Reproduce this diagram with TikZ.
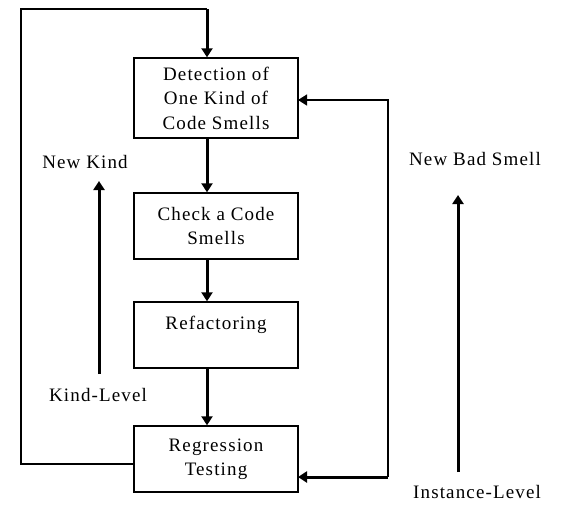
\documentclass[tikz,border=0pt]{standalone}
\usepackage{fontspec}
\setmainfont{Liberation Serif}[LetterSpace=6]
\usetikzlibrary{arrows.meta}

\begin{document}
\begin{tikzpicture}[
    x=1pt, y=-1pt,
    stage/.style={
        draw,
        line width=1.4pt,
        minimum width=164pt,
        inner sep=2pt,
        align=center,
        font=\fontsize{19}{24.5}\selectfont
    },
    tag/.style={
        inner sep=1pt,
        font=\fontsize{19}{24.5}\selectfont
    },
    flow/.style={
        line width=3pt,
        -{Triangle[width=11pt,length=9pt]}
    },
    loop/.style={
        line width=1.4pt
    }
]
\useasboundingbox (0,0) rectangle (564,504);

% The four steps, top to bottom.
\node[stage, minimum height=80pt] (detect) at (216,98)
    {Detection of\\One Kind of\\Code Smells};
\node[stage, minimum height=66pt] (check) at (216,226)
    {Check a Code\\Smells};
\node[stage, minimum height=66pt] (refactor) at (216,335)
    {Refactoring\\~};
\node[stage, minimum height=66pt] (regress) at (216,459)
    {Regression\\Testing};

\coordinate (spine) at (207,0);
\draw[flow] (detect.south -| spine) -- (check.north -| spine);
\draw[flow] (check.south -| spine) -- (refactor.north -| spine);
\draw[flow] (refactor.south -| spine) -- (regress.north -| spine);

% Kind-level loop on the left
\coordinate (kindout) at (134,464);
\coordinate (kindturn) at (21,9);
\coordinate (kindtop) at (207,9);
\draw[loop] (kindout) -| (kindturn) -- (kindtop);
\draw[flow] (kindtop) -- (detect.north -| spine);

% Instance-level loop on the right
\coordinate (instin) at (298,100);
\coordinate (instturn) at (388,100);
\coordinate (instfoot) at (388,477);
\coordinate (instout) at (298,477);
\draw[loop, -{Triangle[width=11pt,length=9pt]}] (instfoot) -- (instturn) -- (instin);
\draw[flow] (instfoot) -- (instout);

% Labels and level arrows
\node[tag] (newkind) at (85,162) {New Kind};
\node[tag] (kindlevel) at (98,395) {Kind-Level};
\node[tag] (newbad) at (475,159) {New Bad Smell};
\node[tag] (instlevel) at (477,492) {Instance-Level};

\coordinate (kindfoot) at (99,374);
\coordinate (kindhead) at (99,181);
\coordinate (badfoot) at (458,472);
\coordinate (badhead) at (458,195);
\draw[flow] (kindfoot) -- (kindhead);
\draw[flow] (badfoot) -- (badhead);
\end{tikzpicture}
\end{document}
